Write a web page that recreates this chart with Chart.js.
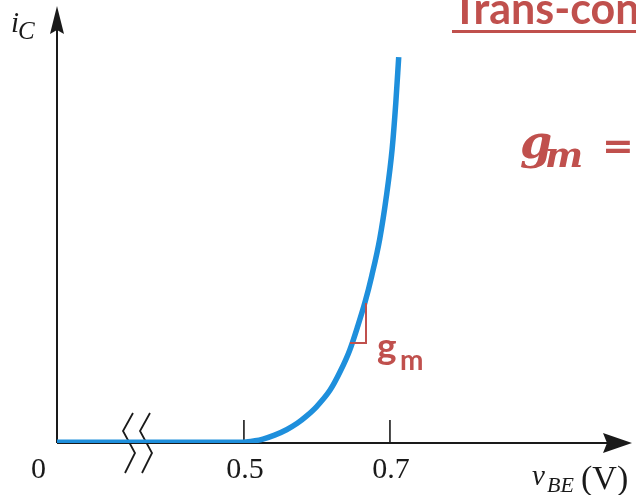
<!DOCTYPE html>
<html>
<head>
<meta charset="utf-8">
<script src="https://cdn.jsdelivr.net/npm/chart.js@4"></script>
<style>
  html, body { margin: 0; padding: 0; background: #fff; }
  canvas { display: block; }
</style>
</head>
<body>
<canvas id="bjtChart" width="636" height="495"></canvas>
<script>
// i_C vs v_BE transfer curve (mA / V)
const vBE = [0, 0.5, 0.515, 0.526, 0.542, 0.559, 0.573, 0.586, 0.600, 0.618, 0.632, 0.645, 0.656, 0.666, 0.675, 0.686, 0.695, 0.703, 0.708, 0.712];
const iC = [0.02, 0.02, 0.05, 0.09, 0.18, 0.31, 0.45, 0.62, 0.84, 1.21, 1.64, 2.13, 2.68, 3.23, 3.82, 4.67, 5.63, 6.73, 7.78, 8.83];

const xTicks = [0, 0.5, 0.7];
const xTickLabels = ['0', '0.5', '0.7'];

const RED = '#c0504d';
const AXIS = '#1a1a1a';
const SERIF = '"Liberation Serif", "DejaVu Serif", serif';
const MATH = '"DejaVu Serif", serif';
const SANS = 'Lato, "Open Sans", sans-serif';

// axis break between 0 and 0.5 V: squeeze 0..0.5 into a short stretch
const X_MIN = 0.244;
function brk(v) {
    return v < 0.5 ? X_MIN + v * (0.5 - X_MIN) / 0.5 : v;
}

const points = vBE.map((v, i) => ({ x: brk(v), y: iC[i] }));

function arrowHead(ctx, tipX, tipY, dir) {
    ctx.beginPath();
    if (dir === 'up') {
        ctx.moveTo(tipX, tipY);
        ctx.lineTo(tipX - 7, tipY + 28);
        ctx.lineTo(tipX, tipY + 24);
        ctx.lineTo(tipX + 7, tipY + 28);
    } else {
        ctx.moveTo(tipX, tipY);
        ctx.lineTo(tipX - 29, tipY - 10);
        ctx.lineTo(tipX - 25, tipY);
        ctx.lineTo(tipX - 29, tipY + 10);
    }
    ctx.closePath();
    ctx.fill();
}

// axes, ticks, break mark, labels
const axesPlugin = {
    id: 'axesPlugin',
    beforeDatasetsDraw(chart) {
        const ctx = chart.ctx;
        const a = chart.chartArea;
        const xs = chart.scales.x;
        ctx.save();
        ctx.strokeStyle = AXIS;
        ctx.fillStyle = AXIS;
        ctx.lineWidth = 2;
        ctx.beginPath();
        ctx.moveTo(a.left, a.bottom);
        ctx.lineTo(a.left, a.top + 20);
        ctx.moveTo(a.left, a.bottom);
        ctx.lineTo(a.right - 20, a.bottom);
        ctx.stroke();
        arrowHead(ctx, a.left, a.top, 'up');
        arrowHead(ctx, a.right, a.bottom, 'right');

        // tick marks pointing up
        ctx.lineWidth = 1.6;
        xTicks.forEach(v => {
            if (v === 0) return;
            const px = xs.getPixelForValue(brk(v));
            ctx.beginPath();
            ctx.moveTo(px, a.bottom);
            ctx.lineTo(px, a.bottom - 23);
            ctx.stroke();
        });

        // break symbol
        ctx.lineWidth = 1.8;
        [0, 17].forEach(dx => {
            ctx.beginPath();
            ctx.moveTo(133 + dx, 413);
            ctx.lineTo(123 + dx, 431);
            ctx.lineTo(135 + dx, 453);
            ctx.lineTo(125 + dx, 473);
            ctx.stroke();
        });

        // tick labels
        ctx.font = '30px ' + SERIF;
        ctx.textBaseline = 'alphabetic';
        xTicks.forEach((v, i) => {
            const px = xs.getPixelForValue(brk(v));
            if (v === 0) {
                ctx.textAlign = 'right';
                ctx.fillText(xTickLabels[i], px - 11, 478);
            } else {
                ctx.textAlign = 'center';
                ctx.fillText(xTickLabels[i], px + 1, 478);
            }
        });

        // axis titles
        ctx.textAlign = 'left';
        ctx.font = 'italic 29px ' + SERIF;
        ctx.fillText('i', 11, 32);
        ctx.font = 'italic 25px ' + SERIF;
        ctx.fillText('C', 18, 39);

        ctx.font = 'italic 29px ' + SERIF;
        ctx.fillText('v', 532, 485);
        ctx.font = 'italic 22px ' + SERIF;
        ctx.fillText('BE', 547, 492);
        ctx.font = '34px ' + SERIF;
        ctx.fillText('(V)', 581, 489);
        ctx.restore();
    },
    afterDatasetsDraw(chart) {
        const ctx = chart.ctx;
        ctx.save();
        ctx.fillStyle = RED;
        ctx.strokeStyle = RED;

        // slope marker
        ctx.lineWidth = 2;
        ctx.beginPath();
        ctx.moveTo(366, 303);
        ctx.lineTo(366, 343);
        ctx.lineTo(350, 343);
        ctx.stroke();

        ctx.textAlign = 'left';
        ctx.textBaseline = 'alphabetic';
        ctx.font = 'bold 37px ' + SANS;
        ctx.fillText('g', 377, 359);
        ctx.font = 'bold 28px ' + SANS;
        ctx.fillText('m', 400, 370);

        // title (cut by the right edge)
        ctx.font = 'bold 43px ' + SANS;
        ctx.fillText('Trans-conductance', 452, 24);
        ctx.fillRect(452, 30, 184, 3);

        // formula
        ctx.font = 'italic bold 46px ' + MATH;
        ctx.fillText('g', 520, 158);
        ctx.font = 'italic bold 36px ' + MATH;
        ctx.fillText('m', 545, 167);
        ctx.font = 'bold 38px ' + MATH;
        ctx.fillText('=', 602, 159);
        ctx.restore();
    }
};

new Chart(document.getElementById('bjtChart'), {
    type: 'line',
    data: {
        datasets: [{
            data: points,
            borderColor: '#1e8fdc',
            borderWidth: 5.5,
            borderCapStyle: 'butt',
            pointRadius: 0,
            fill: false,
            cubicInterpolationMode: 'monotone'
        }]
    },
    options: {
        responsive: false,
        devicePixelRatio: 1,
        animation: false,
        layout: { padding: { left: 57, right: 4, top: 6, bottom: 52 } },
        plugins: {
            legend: { display: false },
            tooltip: { enabled: false }
        },
        scales: {
            x: { type: 'linear', min: X_MIN, max: 1.0315, display: false },
            y: { type: 'linear', min: 0, max: 10, display: false }
        }
    },
    plugins: [axesPlugin]
});
</script>
</body>
</html>
